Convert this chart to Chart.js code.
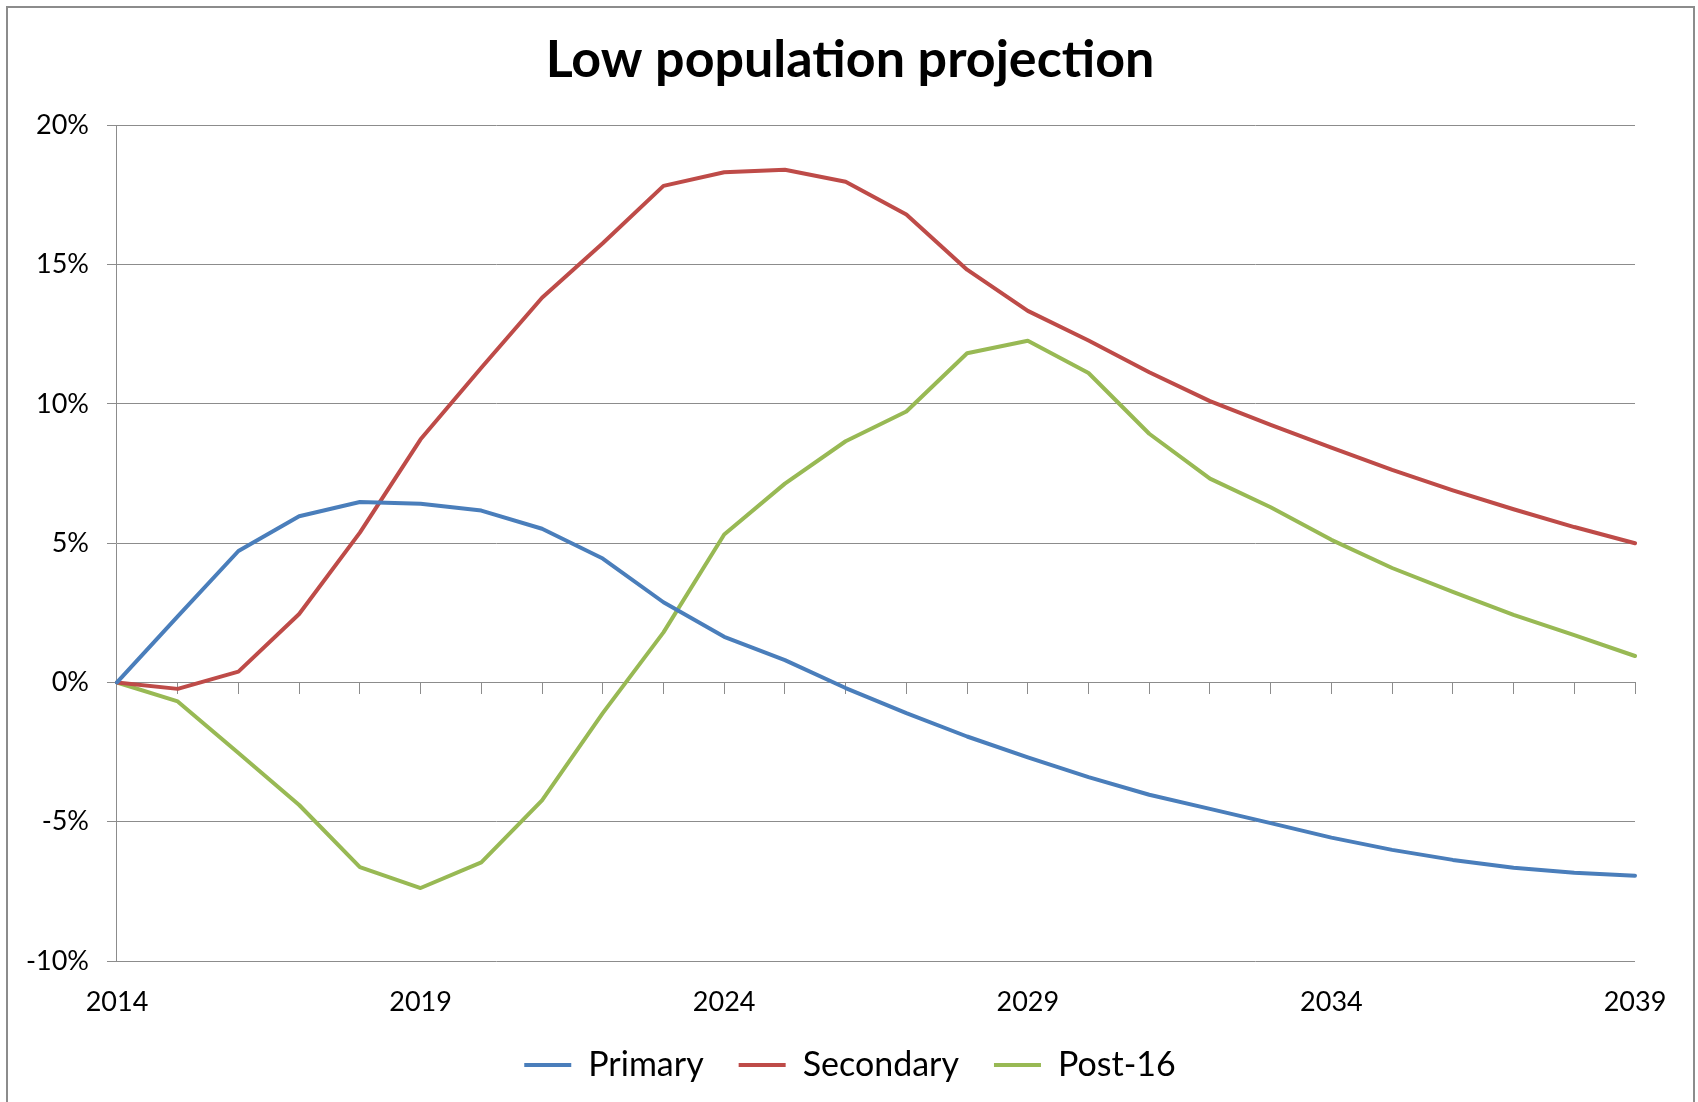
<!DOCTYPE html>
<html>
<head>
<meta charset="utf-8">
<script src="https://cdn.jsdelivr.net/npm/chart.js@4/dist/chart.umd.min.js"></script>
<style>
  html, body { margin: 0; padding: 0; background: #fff; }
  #wrap { position: relative; width: 1698px; height: 1102px; overflow: hidden; }
  #frame {
    position: absolute; left: 6px; top: 6px; width: 1685px; height: 1200px;
    border: 2px solid #8c8c8c; pointer-events: none;
  }
  canvas { position: absolute; left: 0; top: 0; }
</style>
</head>
<body>
<div id="wrap">
  <canvas id="chart" width="1698" height="1102"></canvas>
  <div id="frame"></div>
</div>
<script>
// ── data (percent change vs 2014) ─────────────────────────
const years = [
  "2014", "2015", "2016", "2017", "2018", "2019", "2020", "2021", "2022",
  "2023", "2024", "2025", "2026", "2027", "2028", "2029", "2030", "2031",
  "2032", "2033", "2034", "2035", "2036", "2037", "2038", "2039",
];
const primary = [
  0, 2.37, 4.72, 5.97, 6.48, 6.42, 6.17, 5.52, 4.45, 2.88, 1.64, 0.8,
  -0.2, -1.1, -1.94, -2.69, -3.4, -4.03, -4.54, -5.05, -5.57, -6.01,
  -6.37, -6.65, -6.83, -6.94,
];
const secondary = [
  0, -0.23, 0.39, 2.46, 5.38, 8.73, 11.3, 13.81, 15.77, 17.83, 18.32,
  18.41, 17.98, 16.8, 14.82, 13.34, 12.28, 11.14, 10.1, 9.25, 8.43,
  7.63, 6.9, 6.22, 5.58, 5.0,
];
const post16 = [
  0, -0.68, -2.53, -4.4, -6.63, -7.38, -6.46, -4.23, -1.1, 1.8, 5.31,
  7.14, 8.66, 9.73, 11.82, 12.27, 11.11, 8.93, 7.32, 6.29, 5.12, 4.11,
  3.25, 2.43, 1.7, 0.95,
];
const yTicks = { min: -10, max: 20, step: 5 };

const GRID = "#8c8c8c";
const FONT = "Lato";

const series = [
  { label: "Primary",   data: primary,   color: "#4a7ebb" },
  { label: "Secondary", data: secondary, color: "#be4b48" },
  { label: "Post-16",   data: post16,    color: "#98b954" },
];

new Chart(document.getElementById("chart"), {
  type: "line",
  data: {
    labels: years,
    datasets: series.map(s => ({
      label: s.label,
      data: s.data,
      borderColor: s.color,
      backgroundColor: s.color,
      borderWidth: 4,
      borderCapStyle: "round",
      borderJoinStyle: "round",
      pointRadius: 0,
      tension: 0,
      xAxisID: "x",
      yAxisID: "y",
    })),
  },
  options: {
    responsive: false,
    animation: false,
    layout: { padding: { left: 8, right: 6, top: 0, bottom: 10 } },
    plugins: {
      title: {
        display: true,
        text: "Low population projection",
        color: "#000",
        font: { family: FONT, size: 52, weight: "bold" },
        padding: { top: 29, bottom: 34 },
      },
      legend: {
        position: "bottom",
        labels: {
          color: "#000",
          font: { family: FONT, size: 34 },
          usePointStyle: true,
          pointStyle: "line",
          pointStyleWidth: 47,
          padding: 35,
        },
      },
      tooltip: { enabled: false },
    },
    scales: {
      x: {
        type: "category",
        offset: false,
        grid: { display: false, drawTicks: false },
        border: { display: false },
        ticks: {
          autoSkip: false,
          maxRotation: 0,
          padding: 25,
          color: "#000",
          font: { family: FONT, size: 27 },
          callback: (v, i) => (i % 5 === 0 ? years[i] : ""),
        },
        // labels may sit in the legend's empty top padding
        afterFit: scale => { scale.height = 52; },
      },
      // zero-line axis carrying the small tick marks
      x0: {
        type: "category",
        position: { y: 0 },
        offset: false,
        grid: { drawOnChartArea: false, drawTicks: true, tickLength: 11, color: GRID },
        border: { display: true, color: GRID, width: 1 },
        ticks: { display: false, autoSkip: false },
        afterFit: scale => { scale.height = 0; },
      },
      y: {
        min: yTicks.min,
        max: yTicks.max,
        grid: { color: GRID, tickLength: 10, drawTicks: true },
        border: { display: true, color: GRID },
        ticks: {
          stepSize: yTicks.step,
          padding: 18,
          color: "#000",
          font: { family: FONT, size: 27 },
          callback: v => v + "%",
        },
      },
      // empty right-hand spacer so title and legend centre like the original
      ySpace: {
        position: "right",
        grid: { display: false },
        border: { display: false },
        ticks: { display: false },
        afterFit: scale => { scale.width = 57; },
      },
    },
  },
});
</script>
</body>
</html>
